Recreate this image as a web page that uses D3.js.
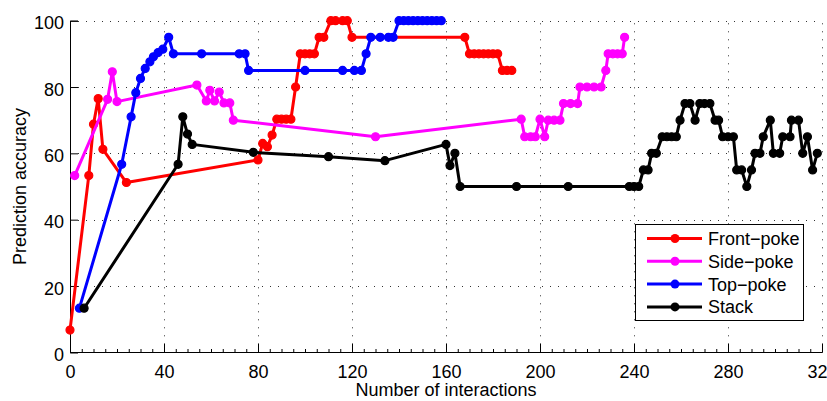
<!DOCTYPE html>
<html>
<head>
<meta charset="utf-8">
<script src="https://cdn.jsdelivr.net/npm/d3@7"></script>
<style>
  body { margin: 0; background: #fff; }
  text { font-family: "Liberation Sans", Arial, sans-serif; }
</style>
</head>
<body>
<figure id="chart" style="margin:0"></figure>
<script>
// data
const xTicks = [0, 40, 80, 120, 160, 200, 240, 280, 320];
const yTicks = [0, 20, 40, 60, 80, 100];
const seriesNames = ["Front\u2212poke", "Side\u2212poke", "Top\u2212poke", "Stack"];
const seriesColors = ["#ff0000", "#ff00ff", "#0000ff", "#000000"];

const frontX = [0, 8, 10, 12, 14, 24, 80, 82, 84, 86, 88, 90, 92, 94, 96, 98, 100, 102, 104, 106, 108, 111, 113, 116, 118, 120, 168, 170, 172, 174, 176, 178, 180, 182, 184, 186, 188];
const frontY = [6.7, 53.3, 68.8, 76.5, 61.2, 51.2, 58, 63, 62, 65.5, 70.3, 70.3, 70.3, 70.3, 80, 90, 90, 90, 90, 95, 95, 100, 100, 100, 100, 95, 95, 90, 90, 90, 90, 90, 90, 90, 85, 85, 85];

const sideX = [2, 16, 18, 20, 54, 58, 59.5, 61.5, 63.5, 65.5, 68, 69.5, 130, 192, 193.5, 196, 198, 200, 202, 203.5, 206, 208.5, 210, 213, 216, 217, 220, 223, 226, 228, 229, 231, 233, 235, 236];
const sideY = [53.3, 76.3, 84.6, 75.6, 80.6, 75.8, 79, 75.8, 78.5, 75.2, 75.2, 70, 65, 70.3, 65, 65, 65, 70.3, 65, 70, 70, 70, 75, 75, 75, 80, 80, 80, 80, 85, 90, 90, 90, 90, 95];

const topX = [4, 22, 26, 28, 30, 32, 34, 35.5, 37.5, 39.5, 42, 44, 56, 72, 74.5, 76, 100, 116, 121, 124, 126, 128, 132, 135.5, 137.5, 140, 142, 144, 146, 148, 150, 152, 154, 156, 158];
const topY = [13.3, 56.7, 71, 78.3, 82.6, 85.6, 87.6, 89.1, 90.4, 91.4, 95, 90, 90, 90, 90, 85, 85, 85, 85, 85, 90, 95, 95, 95, 95, 100, 100, 100, 100, 100, 100, 100, 100, 100, 100];

const stackX = [6, 46, 48, 50, 52, 78, 110, 134, 160, 161.7, 163.8, 166, 190, 212, 238, 240, 242, 244, 246, 247.5, 249.5, 252, 254, 256, 258, 259.6, 261.7, 263.8, 266, 268, 270, 272.3, 274.5, 276, 277.7, 280, 282.3, 283.7, 285.8, 288, 290, 291.5, 293.6, 295, 298, 299.3, 302, 303.3, 306.4, 307, 310, 311.8, 313.8, 316, 318];
const stackY = [13.3, 56.7, 71, 65.8, 62.7, 60.3, 59, 57.8, 62.7, 56.3, 60, 50, 50, 50, 50, 50, 50, 55, 55, 60, 60, 65, 65, 65, 65, 70, 75, 75, 70, 75, 75, 75, 70, 70, 65, 65, 65, 55, 55, 50, 55, 60, 60, 65, 70, 60, 60, 65, 65, 70, 70, 60, 65, 55, 60];

const width = 827, height = 401;
const margin = { left: 70, right: 5, top: 20.7, bottom: 48.7 };

const svg = d3.select("figure#chart")
  .append("svg")
  .attr("width", width)
  .attr("height", height);

const x = d3.scaleLinear().domain([0, 320]).range([margin.left, width - margin.right]);
const y = d3.scaleLinear().domain([0, 100]).range([height - margin.bottom, margin.top]);

// dotted grid
const grid = svg.append("g")
  .attr("stroke", "#333")
  .attr("stroke-width", 1)
  .attr("stroke-dasharray", "1,7");
grid.selectAll("line.gx")
  .data(xTicks.slice(1))
  .enter().append("line")
  .attr("x1", d => Math.round(x(d)) + 0.5).attr("x2", d => Math.round(x(d)) + 0.5)
  .attr("y1", y(0)).attr("y2", y(100));
grid.selectAll("line.gy")
  .data(yTicks.slice(1))
  .enter().append("line")
  .attr("x1", x(0)).attr("x2", x(320))
  .attr("y1", d => Math.round(y(d)) + 0.5).attr("y2", d => Math.round(y(d)) + 0.5);

// axes, ticks pointing inward like matlab
const xAxis = svg.append("g")
  .attr("transform", "translate(0," + Math.round(y(0)) + ")")
  .call(d3.axisBottom(x).tickValues(xTicks).tickSize(-8).tickPadding(13).tickFormat(d3.format("d")));
const xMinor = svg.append("g")
  .attr("transform", "translate(0," + Math.round(y(0)) + ")")
  .call(d3.axisBottom(x).ticks(80).tickSize(-3).tickFormat(""));
xMinor.select(".domain").remove();

const yAxis = svg.append("g")
  .attr("transform", "translate(" + Math.round(x(0)) + ",0)")
  .call(d3.axisLeft(y).tickValues(yTicks).tickSize(-8).tickPadding(6));

svg.selectAll(".tick text")
  .attr("fill", "#000")
  .style("font-size", "18px");
yAxis.selectAll(".tick text").attr("dy", "0.45em");
svg.selectAll(".domain").attr("stroke", "#000");
svg.selectAll(".tick line").attr("stroke", "#000");

svg.append("text")
  .attr("x", (x(0) + x(320)) / 2)
  .attr("y", 396)
  .attr("text-anchor", "middle")
  .style("font-size", "18px")
  .text("Number of interactions");

svg.append("text")
  .attr("transform", "translate(26," + (y(0) + y(100)) / 2 + ") rotate(-90)")
  .attr("text-anchor", "middle")
  .style("font-size", "18px")
  .text("Prediction accuracy");

// series
const allSeries = [
  { xs: frontX, ys: frontY },
  { xs: sideX, ys: sideY },
  { xs: topX, ys: topY },
  { xs: stackX, ys: stackY }
];
const line = d3.line().x(d => x(d[0])).y(d => y(d[1]));

allSeries.forEach((s, i) => {
  const pts = s.xs.map((v, j) => [v, s.ys[j]]);
  const g = svg.append("g");
  g.append("path")
    .attr("d", line(pts))
    .attr("fill", "none")
    .attr("stroke", seriesColors[i])
    .attr("stroke-width", 3)
    .attr("stroke-linejoin", "round");
  g.selectAll("circle")
    .data(pts)
    .enter().append("circle")
    .attr("cx", d => x(d[0]))
    .attr("cy", d => y(d[1]))
    .attr("r", 4)
    .attr("fill", seriesColors[i])
    .attr("stroke", seriesColors[i])
    .attr("stroke-width", 1.2);
});

// legend
const legend = svg.append("g");
legend.append("rect")
  .attr("x", 635.5).attr("y", 224.5)
  .attr("width", 168).attr("height", 96)
  .attr("fill", "#fff")
  .attr("stroke", "#000")
  .attr("stroke-width", 1);
const items = legend.selectAll("g.item")
  .data(seriesNames)
  .enter().append("g")
  .attr("transform", (d, i) => "translate(0," + (238.5 + i * 22.8) + ")");
items.append("line")
  .attr("x1", 647).attr("x2", 702)
  .attr("stroke", (d, i) => seriesColors[i])
  .attr("stroke-width", 3);
items.append("circle")
  .attr("cx", 675).attr("r", 4.5)
  .attr("fill", (d, i) => seriesColors[i]);
items.append("text")
  .attr("x", 708)
  .attr("dy", "0.36em")
  .style("font-size", "18px")
  .text(d => d);
</script>
</body>
</html>
